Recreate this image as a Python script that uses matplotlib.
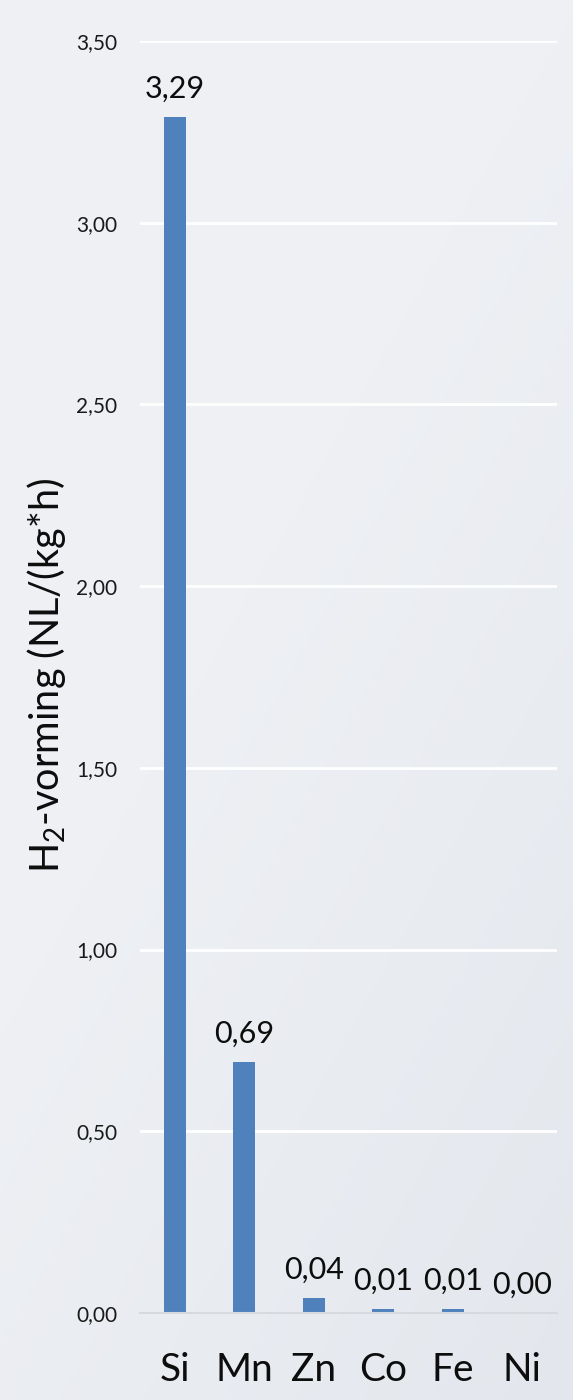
import numpy as np
import matplotlib
matplotlib.use("Agg")
import matplotlib.pyplot as plt
from matplotlib.colors import LinearSegmentedColormap

# Data
elements = ["Si", "Mn", "Zn", "Co", "Fe", "Ni"]
h2_rate = [3.29, 0.69, 0.04, 0.01, 0.01, 0.00]
y_ticks = [0.0, 0.5, 1.0, 1.5, 2.0, 2.5, 3.0, 3.5]
y_label = r"H$_2$-vorming (NL/(kg*h)"

plt.rcParams["font.family"] = ["Lato", "DejaVu Sans"]
plt.rcParams["mathtext.fontset"] = "custom"
plt.rcParams["mathtext.rm"] = "Lato"
plt.rcParams["mathtext.it"] = "Lato"

def comma(v):
    return f"{v:.2f}".replace(".", ",")

fig = plt.figure(figsize=(5.73, 14), dpi=100)

# soft background shading, slightly darker towards the lower right
bg = fig.add_axes([0, 0, 1, 1], zorder=-10)
h, w = 280, 115
yy, xx = np.mgrid[0:h, 0:w]
t = (xx / w) * 0.55 + (yy / h) * 0.75
t = np.clip((t - 0.55) / 0.75, 0, 1)
cmap = LinearSegmentedColormap.from_list("bg", ["#eef0f4", "#e3e7ed"])
bg.imshow(t, cmap=cmap, aspect="auto", extent=[0, 1, 0, 1], vmin=0, vmax=1)
bg.set_axis_off()

ax = fig.add_axes([140 / 573, 87 / 1400, 417 / 573, 1272 / 1400])
ax.set_facecolor("none")

x = np.arange(len(elements))
bars = ax.bar(x, h2_rate, width=0.32, color="#4f81bd", zorder=3)

ax.set_xlim(-0.5, len(elements) - 0.5)
ax.set_ylim(0, 3.5)
ax.set_yticks(y_ticks)
ax.set_yticklabels([comma(v) for v in y_ticks])
ax.set_xticks(x)
ax.set_xticklabels(elements)

ax.yaxis.grid(True, color="white", linewidth=2, zorder=1)
ax.set_axisbelow(True)
for s in ["top", "right", "left"]:
    ax.spines[s].set_visible(False)
ax.spines["bottom"].set_color("#d6d9de")
ax.spines["bottom"].set_linewidth(1.5)
ax.spines["bottom"].set_zorder(4)

ax.tick_params(axis="y", length=0, pad=16.5, labelsize=15, labelcolor="#1a1a1a")
ax.tick_params(axis="x", length=0, pad=28, labelsize=28, labelcolor="#0d0d0d")

for xi, v in zip(x, h2_rate):
    ax.annotate(comma(v), (xi, v), xytext=(0, 14), textcoords="offset points",
                ha="center", va="baseline", fontsize=22, color="#0d0d0d")

fig.text(47 / 573, 1 - 675 / 1400, y_label, rotation=90, ha="center", va="center",
         fontsize=28.5, color="#0d0d0d")

fig.savefig("out.png", dpi=100)
